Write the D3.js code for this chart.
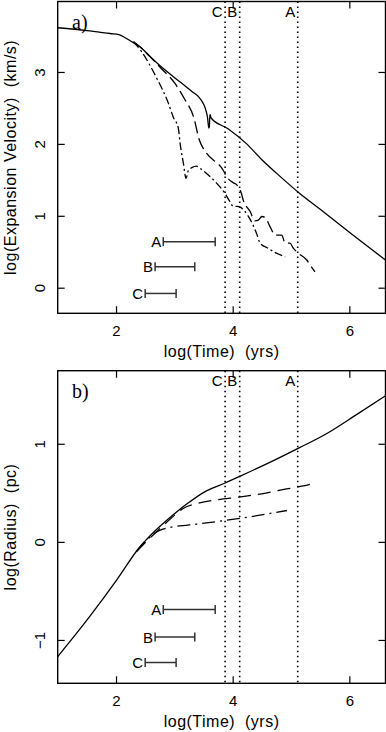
<!DOCTYPE html>
<html>
<head>
<meta charset="utf-8">
<script src="https://cdn.jsdelivr.net/npm/d3@7"></script>
<style>
body { margin: 0; background: #fff; }
text { font-family: "Liberation Sans", Arial, sans-serif; }
</style>
</head>
<body>
<div id="div_svg"></div>
<script>
// a) log expansion velocity vs log time  [logT, logV]
var velSolid = [[1.0,3.615],[1.5,3.575],[1.9,3.535],[2.05,3.52],[2.15,3.48],[2.25,3.43],[2.41,3.35],
	[2.6,3.2],[2.75,3.09],[3.1,2.86],[3.3,2.73],[3.42,2.65],[3.49,2.57],[3.54,2.47],[3.57,2.36],
	[3.59,2.22],[3.6,2.24],[3.61,2.41],[3.63,2.36],[3.92,2.21],[4.24,2.0],[4.5,1.78],[4.755,1.59],
	[5.15,1.31],[5.5,1.09],[6.0,0.77],[6.62,0.385]];
var velDashed = [[2.3,3.42],[2.41,3.35],[2.75,3.07],[3.01,2.84],[3.185,2.61],[3.33,2.375],[3.43,2.05],
	[3.5,1.93],[3.55,1.87],[3.84,1.63],[3.9,1.54],[4.01,1.46],[4.07,1.43],[4.15,1.31],[4.18,1.22],
	[4.3,1.06],[4.38,0.93],[4.44,0.94],[4.5,0.99],[4.55,0.98],[4.64,0.85],[4.73,0.73],[4.84,0.73],
	[4.9,0.62],[4.98,0.62],[5.04,0.55],[5.125,0.48],[5.27,0.385],[5.35,0.29],[5.41,0.22]];
var velDashDot = [[2.3,3.42],[2.44,3.28],[2.7,2.91],[2.9,2.56],[2.98,2.375],[3.07,2.21],[3.1,2.0],
	[3.155,1.73],[3.2,1.52],[3.24,1.63],[3.3,1.67],[3.38,1.69],[3.44,1.66],[3.67,1.5],[3.75,1.43],
	[3.87,1.31],[3.95,1.2],[4.01,1.13],[4.08,1.13],[4.13,1.12],[4.21,1.06],[4.41,0.755],[4.47,0.62],
	[4.6,0.55],[4.75,0.48],[4.9,0.43]];

// b) log radius vs log time
var radSolid = [[1.0,-1.17],[1.55,-0.76],[2.01,-0.39],[2.41,-0.05],[2.58,0.06],[2.87,0.22],[3.2,0.38],
	[3.55,0.52],[3.87,0.6],[4.13,0.67],[4.6,0.8],[5.13,0.956],[5.6,1.1],[6.13,1.3],[6.62,1.49]];
var radDashed = [[2.35,-0.1],[2.6,0.05],[2.87,0.2],[3.0,0.27],[3.15,0.34],[3.38,0.39],[3.75,0.43],
	[4.1,0.456],[4.5,0.49],[4.84,0.53],[5.21,0.57],[5.41,0.6]];
var radDashDot = [[2.35,-0.1],[2.5,0.0],[2.64,0.08],[2.8,0.13],[2.95,0.15],[3.44,0.185],[4.13,0.24],
	[4.93,0.32]];

// time markers (dotted verticals)
var markerLabels = ["C", "B", "A"];
var markerTimes = [3.87, 4.12, 5.115];

// duration bars
var barLabels = ["A", "B", "C"];
var barStart = [2.81, 2.67, 2.50];
var barEnd = [3.70, 3.35, 3.03];
var barYa = [0.64, 0.29, -0.08];
var barYb = [-0.69, -0.97, -1.23];

var xTicks = [2, 4, 6];
var yTicksA = [0, 1, 2, 3];
var yTicksB = [-1, 0, 1];

var svg = d3.select("#div_svg").append("svg").attr("id", "svg")
	.attr("width", 386).attr("height", 732);

var x = d3.scaleLinear().domain([1, 6.62]).range([57.7, 385.5]);
var yA = d3.scaleLinear().domain([-0.356, 3.98]).range([313.3, 1.5]);
var yB = d3.scaleLinear().domain([-1.442, 1.745]).range([683.3, 370.7]);

function drawPanel(y, letter, ytitle, yTicks, solid, dashed, dashdot, barY, dashPat, dotPat) {
	var top = y.range()[1], bottom = y.range()[0];
	var left = x.range()[0], right = x.range()[1];
	var g = svg.append("g");

	// axes: ticks on all four sides pointing in
	var bx = g.append("g").attr("transform", "translate(0," + bottom + ")")
		.call(d3.axisBottom(x).tickValues(xTicks).tickFormat(d3.format("d"))
			.tickSizeInner(-7).tickSizeOuter(0).tickPadding(12));
	g.append("g").attr("transform", "translate(0," + top + ")")
		.call(d3.axisTop(x).tickValues(xTicks).tickSizeInner(-7).tickSizeOuter(0).tickFormat(""));
	var ly = g.append("g").attr("transform", "translate(" + left + ",0)")
		.call(d3.axisLeft(y).tickValues(yTicks).tickSizeInner(-7).tickSizeOuter(0)
			.tickFormat(function(d) { return d < 0 ? "\u2212" + Math.abs(d) : d; }));
	g.append("g").attr("transform", "translate(" + right + ",0)")
		.call(d3.axisRight(y).tickValues(yTicks).tickSizeInner(-7).tickSizeOuter(0).tickFormat(""));
	g.selectAll(".domain").remove();
	g.selectAll(".tick line").attr("stroke", "#000").attr("stroke-width", 1.2);
	bx.selectAll("text").attr("font-size", 15).attr("fill", "#000");
	ly.selectAll("text").attr("x", null).attr("dy", null).attr("text-anchor", "middle")
		.attr("transform", "translate(-13,0) rotate(-90)")
		.attr("font-size", 15).attr("fill", "#000");
	g.selectAll("g").attr("font-family", null);

	// frame
	g.append("rect").attr("x", left).attr("y", top).attr("width", right - left)
		.attr("height", bottom - top).style("fill", "none").style("stroke", "black")
		.style("stroke-width", 1.4);

	// dotted time markers
	markerTimes.forEach(function(t, i) {
		g.append("line").attr("x1", x(t)).attr("x2", x(t)).attr("y1", top).attr("y2", bottom)
			.style("stroke", "black").style("stroke-width", 1.6).style("stroke-dasharray", "1.5,3.5");
		g.append("text").attr("x", x(t) - 2.5).attr("y", top + 15).attr("text-anchor", "end")
			.attr("font-size", 15).text(markerLabels[i]);
	});

	// duration bars
	barLabels.forEach(function(l, i) {
		var yy = y(barY[i]);
		g.append("line").attr("x1", x(barStart[i])).attr("x2", x(barEnd[i])).attr("y1", yy).attr("y2", yy)
			.style("stroke", "#333").style("stroke-width", 1.5);
		[barStart[i], barEnd[i]].forEach(function(t) {
			g.append("line").attr("x1", x(t)).attr("x2", x(t)).attr("y1", yy - 4.5).attr("y2", yy + 4.5)
				.style("stroke", "#333").style("stroke-width", 1.5);
		});
		g.append("text").attr("x", x(barStart[i]) - 2).attr("y", yy + 5.5).attr("text-anchor", "end")
			.attr("font-size", 15).text(l);
	});

	// curves
	var line = d3.line().curve(d3.curveMonotoneX)
		.x(function(d) { return x(d[0]); }).y(function(d) { return y(d[1]); });
	g.append("path").attr("d", line(solid)).style("fill", "none").style("stroke", "black")
		.style("stroke-width", 1.3);
	g.append("path").attr("d", line(dashed)).style("fill", "none").style("stroke", "black")
		.style("stroke-width", 1.3).style("stroke-dasharray", dashPat);
	g.append("path").attr("d", line(dashdot)).style("fill", "none").style("stroke", "black")
		.style("stroke-width", 1.3).style("stroke-dasharray", dotPat);

	// labels
	g.append("text").attr("x", 72).attr("y", top + 27).style("font-family", "'Liberation Serif', serif")
		.attr("font-size", 20).text(letter);
	g.append("text").attr("x", (left + right) / 2).attr("y", bottom + 44).attr("text-anchor", "middle")
		.attr("font-size", 16).style("letter-spacing", "0.5px").style("white-space", "pre")
		.text("log(Time)  (yrs)");
	g.append("text").attr("transform", "translate(16," + (top + bottom) / 2 + ") rotate(-90)")
		.attr("text-anchor", "middle").attr("font-size", 16).style("letter-spacing", "0.5px")
		.style("white-space", "pre").text(ytitle);
}

drawPanel(yA, "a)", "log(Expansion Velocity)  (km/s)", yTicksA, velSolid, velDashed, velDashDot,
	barYa, "12,5", "8,3,2,3");
drawPanel(yB, "b)", "log(Radius)  (pc)", yTicksB, radSolid, radDashed, radDashDot,
	barYb, "13,7", "13,5,2,5");
</script>
</body>
</html>
